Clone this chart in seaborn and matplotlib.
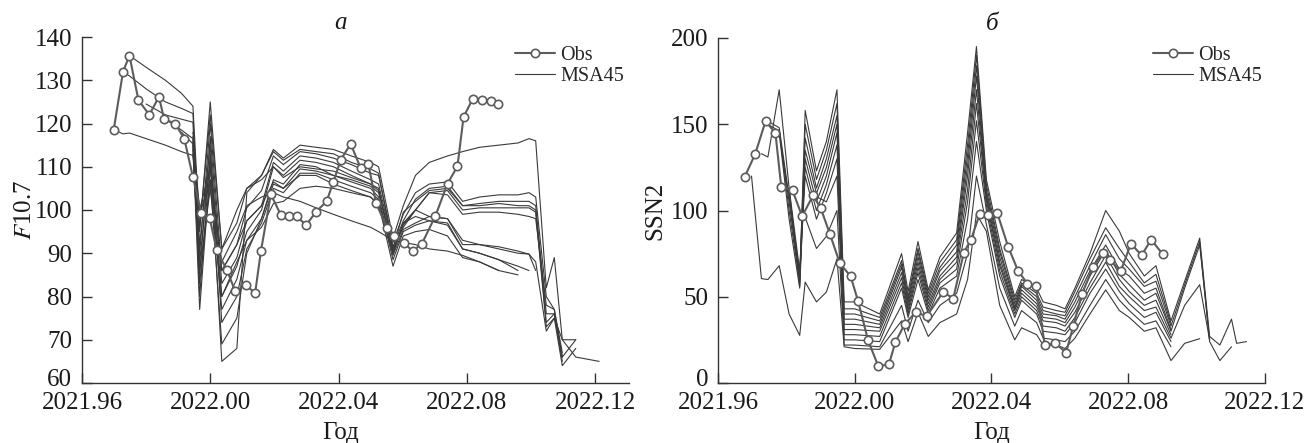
import numpy as np
import pandas as pd
import matplotlib
matplotlib.use("Agg")
import matplotlib.pyplot as plt
import matplotlib.transforms as mtransforms
from matplotlib.lines import Line2D
import seaborn as sns

n = np.nan

# ---------------- Panel a: F10.7 ----------------
obs_a_x = [2021.9699, 2021.9728, 2021.9748, 2021.9776, 2021.9810, 2021.9840, 2021.9856,
           2021.9890, 2021.9919, 2021.9946, 2021.9972, 2021.9998, 2022.0020, 2022.0052,
           2022.0078, 2022.0111, 2022.0140, 2022.0158, 2022.0189, 2022.0220, 2022.0247,
           2022.0270, 2022.0299, 2022.0330, 2022.0363, 2022.0384, 2022.0407, 2022.0438,
           2022.0469, 2022.0493, 2022.0517, 2022.0552, 2022.0574, 2022.0604, 2022.0631,
           2022.0660, 2022.0702, 2022.0740, 2022.0771, 2022.0790, 2022.0818, 2022.0849,
           2022.0876, 2022.0898]
obs_a_y = [118.6, 132.0, 135.7, 125.4, 122.0, 126.2, 121.0,
           120.0, 116.5, 107.6, 99.2, 98.2, 90.7, 86.1,
           81.2, 82.6, 80.8, 90.5, 103.6, 98.9, 98.7,
           98.5, 96.5, 99.6, 102.0, 106.5, 111.6, 115.3,
           109.7, 110.7, 101.6, 95.8, 94.1, 92.4, 90.5,
           92.2, 98.6, 106.1, 110.1, 121.5, 125.6, 125.5,
           125.1, 124.4]

grid_a = [2021.9699, 2021.9728, 2021.9748, 2021.9800, 2021.9860, 2021.9910, 2021.9946,
          2021.9967, 2022.0000, 2022.0036, 2022.0083, 2022.0114,
          2022.0160, 2022.0197, 2022.0228, 2022.0280, 2022.0330, 2022.0384, 2022.0440, 2022.0500, 2022.0525,
          2022.0570, 2022.0602, 2022.0640, 2022.0683,
          2022.0740, 2022.0787, 2022.0840, 2022.0900, 2022.0960, 2022.0994, 2022.1015,
          2022.1048, 2022.1073, 2022.1098, 2022.1140, 2022.1213]

msa_a = {
    "A": [n, n, 135.7, 133.0, 130.0, 127.0, 124.0,
          95, 125, 91, 97, 105,
          108, 114, 112, 115, 114.5, 114, 112.5, 111, 110,
          93.5, 101, 108, 111,
          112.5, 113.5, 114.5, 115, 115.5, 116.5, 116,
          82, 89, 70, 66, 65],
    "B": [n, 132.0, 131.0, 128.0, 125.0, 123.5, 122.3,
          90, 120, 86, 92, 100.5,
          104.5, 112.5, 110.5, 113.5, 113, 112, 110.5, 108.5, 108,
          92.5, 99, 104, 106,
          106.5, 102, 103, 103.5, 103.5, 104, 103,
          80, 77, 66, n, n],
    "C": [n, n, n, 124.5, 122.0, 121.0, 120.3,
          85, 117, 83, 89, 97.5,
          101, 111, 109, 112.5, 112, 111, 109, 107, 106,
          91.5, 97.5, 102.5, 105,
          105.5, 101, 101.5, 102, 102, 102, 101,
          76, 76, 65, n, n],
    "D": [n, n, n, n, 121.0, 118.5, 116.5,
          80, 113, 80, 87, 95,
          100, 110, 108, 111.5, 111, 110, 108, 106, 104.5,
          90.5, 96.5, 100, 104,
          104.5, 100, 100.5, 100.5, 100.5, 100.5, 99.5,
          73, 75, 64, 68, n],
    "E": [n, n, n, n, n, 118.0, 115.3,
          77, 110, 77, 84, 93,
          98, 107, 106, 110.5, 110, 108, 106.5, 105, 103,
          89.5, 95.5, 97, 98.5,
          98, 92, 92, 91.5, 90.5, 89.8, 88,
          72, 75, 70, 70, n],
    "F": [118.6, 117.6, 117.8, 116.5, 115.0, 113.5, 112.6,
          99, 107, 88, 95, 101,
          103, 104, 103, 102, 100.5, 99, 97.5, 96, 95,
          93, 92.5, 92, 91,
          90.5, 89.5, 88, 86, n, n, n,
          n, n, n, n, n],
    "G": [n, n, n, n, n, n, 116.0,
          92, 115, 74, 80, 91,
          97, 105, 104, 108.5, 108.5, 107, 105.5, 104, 102.5,
          88.5, 95, 96.5, 97.5,
          97, 91, 90, 88.5, 87, 86, n,
          n, n, n, n, n],
    "H": [n, n, n, n, n, n, 114.0,
          88, 112, 65, 68, 104,
          108, 113.5, 111.5, 114, 113.5, 113, 111, 109.5, 108.5,
          91, 99.5, 102, 104.5,
          105, 101, 101, 101.5, 101, 101, 100,
          74, 76, 66, 70, n],
    "I": [n, n, n, n, n, n, 118.0,
          96, 122, 91, 100, 105,
          107, 110, 107.5, 110, 109.5, 109, 107.5, 106, 105,
          90, 97, 98.5, 97.5,
          96.5, 91, 90, 88.5, 86, n, n,
          n, n, n, n, n],
    "J": [n, n, n, n, n, n, 117.0,
          100, 110, 86, 92, 97.5,
          101, 106.5, 105, 108, 108, 106, 104.5, 103, 101,
          90, 97, 100, 98.5,
          98, 93, 92, 91, 90, 89.8, 86,
          n, n, n, n, n],
    "K": [n, n, n, n, n, n, 115.0,
          83, 107, 69, 75, 90,
          98, 106, 105, 109.5, 109, 108, 107, 105.5, 104,
          91, 96, 100, 104,
          103.5, 99, 99.5, 99.5, 99, 98.5, 98,
          78, 77, 67, n, n],
    "L": [n, n, n, n, n, n, 113.0,
          86, 105, 80, 88, 93,
          96, 101.5, 102, 105, 105.5, 105, 104, 103, 101.5,
          87, 94, 95, 95.5,
          94, 89, 88, 86, 85, n, n,
          n, n, n, n, n],
}

# ---------------- Panel б: SSN2 ----------------
obs_b_x = [2021.9678, 2021.9709, 2021.9739, 2021.9768, 2021.9785, 2021.9818, 2021.9846,
           2021.9878, 2021.9900, 2021.9927, 2021.9956, 2021.9988, 2022.0010, 2022.0039,
           2022.0069, 2022.0100, 2022.0119, 2022.0146, 2022.0179, 2022.0210, 2022.0259,
           2022.0288, 2022.0319, 2022.0340, 2022.0366, 2022.0391, 2022.0417, 2022.0449,
           2022.0478, 2022.0505, 2022.0530, 2022.0556, 2022.0586, 2022.0618, 2022.0639,
           2022.0665, 2022.0697, 2022.0726, 2022.0746, 2022.0778, 2022.0808, 2022.0839,
           2022.0867, 2022.0901]
obs_b_y = [119.4, 132.9, 151.7, 144.9, 113.6, 111.7, 96.6,
           108.8, 101.6, 86.6, 69.6, 61.8, 47.3, 24.7,
           9.7, 10.8, 23.8, 34.0, 41.2, 38.6, 52.8,
           48.9, 75.6, 83.1, 98.2, 97.5, 98.5, 78.8,
           64.9, 57.6, 56.0, 21.8, 23.2, 17.6, 32.9,
           51.8, 67.2, 75.4, 71.5, 64.9, 80.8, 74.0,
           83.1, 74.6]

grid_b = [2021.9698, 2021.9727, 2021.9746, 2021.9779, 2021.9808, 2021.9839, 2021.9855,
          2021.9888, 2021.9917, 2021.9948, 2021.9969,
          2022.0000, 2022.0073, 2022.0137, 2022.0156, 2022.0185, 2022.0215, 2022.0249,
          2022.0298, 2022.0330, 2022.0356, 2022.0385, 2022.0424,
          2022.0468, 2022.0488, 2022.0532, 2022.0551, 2022.0590, 2022.0615, 2022.0644, 2022.0688,
          2022.0734, 2022.0774, 2022.0803, 2022.0847, 2022.0881, 2022.0925, 2022.0965,
          2022.1009, 2022.1038, 2022.1068, 2022.1102, 2022.1117, 2022.1146]

msa_b = {
    "m0": [120, 60.5, 60, 68, 40, 27.6, 58.5, 47, 52.7, 72, 21,
           20, 19.5, 36, 24, 41, 27, 35, 40, 60, 98, 88, 45,
           25, 32, 28, 22, 22, 20, 26, 40,
           54, 42, 38, 30, 32, 13, 23, 25.7, n, n, n, n, n],
    "m1": [n, n, n, n, n, n, 96, 78, 85, 100, 22,
           22, 21, 45, 30, 48, 35, 45, 52, 75, 120, 92, 55,
           33, 42, 35, 26, 25, 24, 30, 45,
           60, 48, 42, 34, 36, 21, n, n, n, n, n, n, n],
    "m2": [n, n, n, n, n, n, n, 108, 105, 120, 25,
           25, 24, 55, 38, 60, 40, 55, 62, 95, 140, 100, 62,
           38, 48, 40, 30, 29, 28, 35, 52,
           66, 53, 46, 38, 41, 24, n, n, n, n, n, n, n],
    "m3": [n, n, n, n, 111, 62, 120, 95, 110, 130, 28,
           28, 27, 58, 40, 64, 42, 58, 66, 105, 152, 103, 65,
           40, 50, 42, 33, 32, 30, 38, 55,
           70, 56, 50, 42, 44, 26, 45, 57, 25, n, n, n, n],
    "m4": [n, n, n, n, 113, 65, 125, 100, 115, 138, 31,
           31, 30, 61, 42, 67, 44, 60, 70, 112, 162, 106, 68,
           42, 52, 44, 36, 35, 33, 41, 58,
           74, 60, 53, 45, 48, 28, n, n, n, n, n, n, n],
    "m5": [n, n, n, 145, 95, 55, 130, 105, 120, 145, 34,
           34, 32, 64, 44, 70, 46, 62, 73, 120, 170, 108, 70,
           43, 54, 46, 38, 37, 35, 44, 62,
           77, 63, 57, 48, 52, 30, 55, 80, 25, n, n, n, n],
    "m6": [n, n, n, 147, 100, 58, 135, 110, 125, 150, 37,
           37, 34, 67, 46, 73, 48, 65, 76, 126, 178, 110, 73,
           44, 56, 48, 40, 39, 37, 47, 65,
           80, 66, 62, 52, 55, 31, n, n, n, n, n, n, n],
    "m7": [n, n, 150, 146, 105, 60, 142, 113, 130, 155, 40,
           40, 36, 69, 48, 76, 50, 67, 80, 132, 184, 112, 76,
           46, 57, 50, 42, 40, 39, 50, 68,
           86, 72, 66, 56, 59, 33, 57, 82, 24, 13, 21, n, n],
    "m8": [n, n, 151.7, 148, 108, 62, 150, 118, 135, 162, 43,
           43, 38, 71, 50, 78, 52, 70, 83, 138, 190, 115, 78,
           48, 58, 52, 44, 42, 41, 53, 72,
           90, 78, 70, 58, 63, 34.5, n, n, n, n, n, n, n],
    "m9": [n, 132.9, 131, 170, 113, 56, 158, 123, 140, 170, 47,
           47, 40, 75, 53, 82, 54, 73, 87, 145, 195, 118, 82,
           50, 60, 55, 47, 45, 43, 55, 75,
           100, 88, 75, 62, 68, 36, 59, 84, 27, 22, 37, 23, 24],
}

x_ticks = [2021.96, 2022.00, 2022.04, 2022.08, 2022.12]
x_tick_labels = ["2021.96", "2022.00", "2022.04", "2022.08", "2022.12"]
y_ticks_a = [60, 70, 80, 90, 100, 110, 120, 130, 140]
y_ticks_b = [0, 50, 100, 150, 200]


def to_long(grid, members):
    rows = []
    for name, vals in members.items():
        for xv, yv in zip(grid, vals):
            if not np.isnan(yv):
                rows.append((name, xv, yv))
    return pd.DataFrame(rows, columns=["member", "x", "value"])


sns.set_theme(style="ticks")
plt.rcParams["font.family"] = ["Liberation Serif", "DejaVu Serif"]
plt.rcParams["mathtext.fontset"] = "stix"
plt.rcParams["xtick.direction"] = "in"
plt.rcParams["ytick.direction"] = "in"

ENS_C = "#3a3a3a"
OBS_C = "#5c5c5c"
SPINE_C = "#333333"

fig = plt.figure(figsize=(13.08, 4.43), dpi=100)
ax_a = fig.add_axes([82 / 1308, 1 - 383 / 443, 547 / 1308, 346 / 443])
ax_b = fig.add_axes([718 / 1308, 1 - 383 / 443, 547 / 1308, 345 / 443])

panels = [
    (ax_a, grid_a, msa_a, obs_a_x, obs_a_y, (2021.96, 2022.1306), (60, 140), y_ticks_a,
     r"$F$10.7", "а", 0.472, 515, -0.084),
    (ax_b, grid_b, msa_b, obs_b_x, obs_b_y, (2021.96, 2022.12), (0, 200), y_ticks_b,
     "SSN2", "б", 0.501, 1153, -0.094),
]

for ax, grid, members, ox, oy, xl, yl, yt, ylab, ttl, tx, legx, ylx in panels:
    df = to_long(grid, members)
    sns.lineplot(data=df, x="x", y="value", units="member", estimator=None,
                 color=ENS_C, lw=0.8, ax=ax, legend=False)
    sns.lineplot(x=ox, y=oy, estimator=None, sort=False, ax=ax, color=OBS_C, lw=1.5,
                 marker="o", ms=6, mfc="white", mec=OBS_C, mew=1.2, legend=False)
    ax.set_xlim(*xl)
    ax.set_ylim(*yl)
    ax.set_xticks(x_ticks)
    ax.set_xticklabels(x_tick_labels)
    ax.set_yticks(yt)
    ax.set_yticklabels([str(v) for v in yt])
    ax.tick_params(axis="both", labelsize=18, length=7, width=1.0, colors=SPINE_C,
                   labelcolor="#1a1a1a")
    ax.tick_params(axis="x", pad=6.5)
    ax.tick_params(axis="y", pad=7)
    # lift the lowest y tick label slightly so it clears the x tick labels
    low = ax.yaxis.get_major_ticks()[0].label1
    low.set_transform(low.get_transform() +
                      mtransforms.ScaledTranslation(0, 0.06, fig.dpi_scale_trans))
    sns.despine(ax=ax)
    for s in ["left", "bottom"]:
        ax.spines[s].set_color(SPINE_C)
        ax.spines[s].set_linewidth(1.0)
    ax.set_xlabel("Год", fontsize=18, color="#1a1a1a")
    ax.xaxis.set_label_coords(tx, -0.113)
    ax.set_ylabel(ylab, fontsize=18, color="#1a1a1a")
    ax.yaxis.set_label_coords(ylx, 0.5)
    ax.text(tx, 1.04, ttl, transform=ax.transAxes, ha="center", va="center",
            fontsize=18, style="italic", color="#1a1a1a")
    handles = [
        Line2D([], [], color=OBS_C, lw=1.5, marker="o", ms=6, mfc="white", mec=OBS_C, mew=1.2),
        Line2D([], [], color=ENS_C, lw=0.8),
    ]
    ax.legend(handles, ["Obs", "MSA45"], loc="upper left",
              bbox_to_anchor=(legx / 1308, 1 - 46 / 443), bbox_transform=fig.transFigure,
              frameon=False, fontsize=14.5, handlelength=2.0, handletextpad=0.25,
              labelspacing=0.1, borderpad=0, borderaxespad=0)

fig.savefig("out.png", dpi=100)
